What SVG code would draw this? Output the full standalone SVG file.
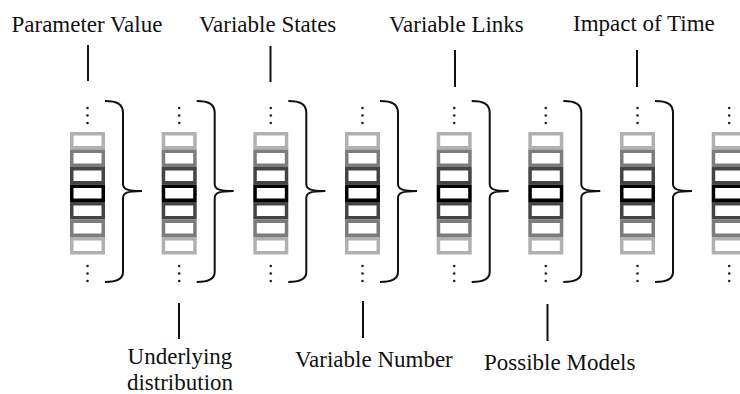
<svg xmlns="http://www.w3.org/2000/svg" xmlns:xlink="http://www.w3.org/1999/xlink" width="740" height="394" viewBox="0 0 740 394">
<style>
.lbl{font-family:"Liberation Serif",Tinos,"Times New Roman","DejaVu Serif",serif;font-size:23px;fill:#111}
.b{fill:#fff;stroke-width:3.5}
.c1{stroke:#b0b0b0}
.c2{stroke:#7c7c7c}
.c3{stroke:#444}
.c4{stroke:#000}
.dot{fill:#222}
.tick{stroke:#111;stroke-width:2;fill:none}
.brace{stroke:#111;stroke-width:2;fill:none}
</style>
<defs>
<g id="stack">
<rect class="b c1" x="1.75" y="133.75" width="31.5" height="14"/>
<rect class="b c2" x="1.75" y="151.25" width="31.5" height="14"/>
<rect class="b c3" x="1.75" y="168.75" width="31.5" height="14"/>
<rect class="b c4" x="1.75" y="186.25" width="31.5" height="14"/>
<rect class="b c3" x="1.75" y="203.75" width="31.5" height="14"/>
<rect class="b c2" x="1.75" y="221.25" width="31.5" height="14"/>
<rect class="b c1" x="1.75" y="238.75" width="31.5" height="14"/>
<circle class="dot" cx="17.5" cy="108" r="1.3"/>
<circle class="dot" cx="17.5" cy="115.5" r="1.3"/>
<circle class="dot" cx="17.5" cy="123" r="1.3"/>
<circle class="dot" cx="17.5" cy="266" r="1.3"/>
<circle class="dot" cx="17.5" cy="273.5" r="1.3"/>
<circle class="dot" cx="17.5" cy="281" r="1.3"/>
</g>
<path id="brace" class="brace" d="M0,101 C12,101 18,104 18,113 L18,184 C18,189 22,191 37,191 C22,191 18,193 18,198 L18,272 C18,279 12,282 0,282"/>
</defs>
<g id="col1" transform="translate(70,0)"><use xlink:href="#stack"/></g>
<g id="col2" transform="translate(161.7,0)"><use xlink:href="#stack"/></g>
<g id="col3" transform="translate(253.3,0)"><use xlink:href="#stack"/></g>
<g id="col4" transform="translate(345,0)"><use xlink:href="#stack"/></g>
<g id="col5" transform="translate(436.7,0)"><use xlink:href="#stack"/></g>
<g id="col6" transform="translate(528.3,0)"><use xlink:href="#stack"/></g>
<g id="col7" transform="translate(620,0)"><use xlink:href="#stack"/></g>
<g id="col8" transform="translate(711.7,0)"><use xlink:href="#stack"/></g>
<g id="connectors">
<use xlink:href="#brace" transform="translate(105,0)"/>
<use xlink:href="#brace" transform="translate(196.7,0)"/>
<use xlink:href="#brace" transform="translate(288.3,0)"/>
<use xlink:href="#brace" transform="translate(380,0)"/>
<use xlink:href="#brace" transform="translate(471.7,0)"/>
<use xlink:href="#brace" transform="translate(563.3,0)"/>
<use xlink:href="#brace" transform="translate(655,0)"/>
<line class="tick" x1="88" y1="45" x2="88" y2="81"/>
<line class="tick" x1="270.5" y1="46" x2="270.5" y2="82"/>
<line class="tick" x1="455" y1="50" x2="455" y2="87"/>
<line class="tick" x1="637" y1="50" x2="637" y2="87"/>
<line class="tick" x1="179" y1="303" x2="179" y2="339"/>
<line class="tick" x1="363" y1="301" x2="363" y2="338"/>
<line class="tick" x1="547.5" y1="304" x2="547.5" y2="341"/>
</g>
<g id="labels">
<text class="lbl" x="11.5" y="32">Parameter Value</text>
<text class="lbl" x="199" y="32">Variable States</text>
<text class="lbl" x="389" y="32">Variable Links</text>
<text class="lbl" x="573" y="31">Impact of Time</text>
<text class="lbl" x="180" y="364" text-anchor="middle">Underlying</text>
<text class="lbl" x="180" y="389.5" text-anchor="middle">distribution</text>
<text class="lbl" x="295" y="367">Variable Number</text>
<text class="lbl" x="484" y="370">Possible Models</text>
</g>
</svg>
